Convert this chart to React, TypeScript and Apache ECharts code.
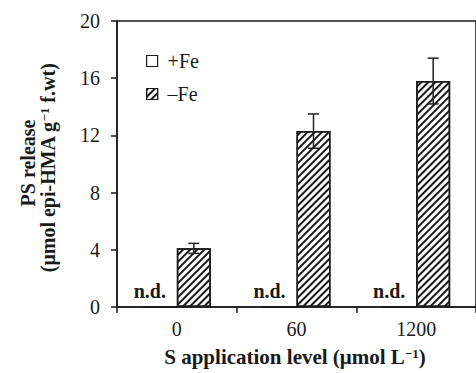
import React, { useEffect, useRef } from "react";
import * as echarts from "echarts";

const categories = ["0", "60", "1200"];
const plusFe = [0, 0, 0];
const minusFe = [4.1, 12.3, 15.8];
const minusFeErr = [0.35, 1.2, 1.6];
const ndLabel = "n.d.";
const yMin = 0;
const yMax = 20;
const yInterval = 4;

const FONT = "'Liberation Serif', 'Times New Roman', serif";
const BAR_W = 34;
const INK = "#1a1a1a";

export default function App() {
  const ref = useRef<HTMLDivElement>(null);
  useEffect(() => {
    if (!ref.current) return;
    const chart = echarts.init(ref.current, null, { renderer: "svg" });
    const hatch = {
      symbol: "rect",
      symbolSize: 1,
      color: INK,
      backgroundColor: "#fff",
      dashArrayX: [1, 0],
      dashArrayY: [2, 3],
      rotation: -Math.PI / 4,
    };
    const option: any = {
      animation: false,
      backgroundColor: "#fff",
      grid: {
        left: 117,
        top: 21,
        right: -3,
        bottom: 66,
        show: true,
        borderColor: INK,
        borderWidth: 1.5,
        backgroundColor: "transparent",
      },
      legend: {
        orient: "vertical",
        left: 141,
        top: 46,
        itemWidth: 11,
        itemHeight: 11,
        itemGap: 13,
        icon: "rect",
        data: ["+Fe", "–Fe"],
        textStyle: { fontFamily: FONT, fontSize: 20, color: INK, padding: [0, 0, 0, 5] },
        itemStyle: { borderColor: INK, borderWidth: 1.2 },
      },
      xAxis: {
        type: "category",
        data: categories,
        axisLine: { lineStyle: { color: INK, width: 1.5 } },
        axisTick: { show: true, length: 6, lineStyle: { color: INK, width: 1.5 } },
        axisLabel: { fontFamily: FONT, fontSize: 20, color: INK, margin: 12 },
        splitLine: { show: false },
      },
      yAxis: {
        type: "value",
        min: yMin,
        max: yMax,
        interval: yInterval,
        axisLine: { show: true, lineStyle: { color: INK, width: 1.5 } },
        axisTick: { show: true, length: 6, lineStyle: { color: INK, width: 1.5 } },
        axisLabel: { fontFamily: FONT, fontSize: 20, color: INK, margin: 17 },
        splitLine: { show: false },
      },
      series: [
        {
          name: "+Fe",
          type: "bar",
          data: plusFe,
          barWidth: BAR_W,
          barGap: "0%",
          itemStyle: { color: "#fff", borderColor: INK, borderWidth: 1.5 },
          label: {
            show: true,
            position: "top",
            distance: 5,
            offset: [-10, 0],
            formatter: () => ndLabel,
            fontFamily: FONT,
            fontSize: 20,
            fontWeight: "bold",
            color: INK,
          },
        },
        {
          name: "–Fe",
          type: "bar",
          data: minusFe,
          barWidth: BAR_W,
          barGap: "0%",
          itemStyle: { color: "#fff", borderColor: INK, borderWidth: 1.5, decal: hatch },
        },
        {
          name: "err",
          type: "custom",
          z: 5,
          data: categories.map((c, i) => [i, minusFe[i], minusFeErr[i]]),
          renderItem: (params: any, api: any) => {
            const i = api.value(0);
            const v = api.value(1);
            const e = api.value(2);
            const hi = api.coord([i, v + e]);
            const lo = api.coord([i, v - e]);
            const x = hi[0] + BAR_W / 2;
            const cap = 5.5;
            const st = { stroke: "#222", lineWidth: 1.5 };
            return {
              type: "group",
              children: [
                { type: "line", shape: { x1: x, y1: hi[1], x2: x, y2: lo[1] }, style: st },
                { type: "line", shape: { x1: x - cap, y1: hi[1], x2: x + cap, y2: hi[1] }, style: st },
                { type: "line", shape: { x1: x - cap, y1: lo[1], x2: x + cap, y2: lo[1] }, style: st },
              ],
            };
          },
        },
      ],
      graphic: [
        {
          type: "text",
          x: 295,
          y: 357,
          style: {
            text: "{b|S application level (μmol L}{s|−1}{b|)}",
            align: "center",
            verticalAlign: "middle",
            rich: {
              b: { fontFamily: FONT, fontSize: 21, fontWeight: "bold", fill: INK },
              s: { fontFamily: FONT, fontSize: 13, fontWeight: "bold", fill: INK, verticalAlign: "top" },
            },
          },
        },
        {
          type: "text",
          x: 28,
          y: 163,
          rotation: Math.PI / 2,
          style: {
            text: "PS release",
            align: "center",
            verticalAlign: "middle",
            font: `bold 20px ${FONT}`,
            fill: INK,
          },
        },
        {
          type: "text",
          x: 48,
          y: 168,
          rotation: Math.PI / 2,
          style: {
            text: "{b|(μmol epi-HMA g}{s|−1}{b| f.wt)}",
            align: "center",
            verticalAlign: "middle",
            rich: {
              b: { fontFamily: FONT, fontSize: 20, fontWeight: "bold", fill: INK },
              s: { fontFamily: FONT, fontSize: 13, fontWeight: "bold", fill: INK, verticalAlign: "top" },
            },
          },
        },
      ],
    };
    chart.setOption(option);
    return () => chart.dispose();
  }, []);
  return (
    <div
      ref={ref}
      style={{ position: "fixed", left: 0, top: 0, width: 476, height: 373 }}
    />
  );
}
